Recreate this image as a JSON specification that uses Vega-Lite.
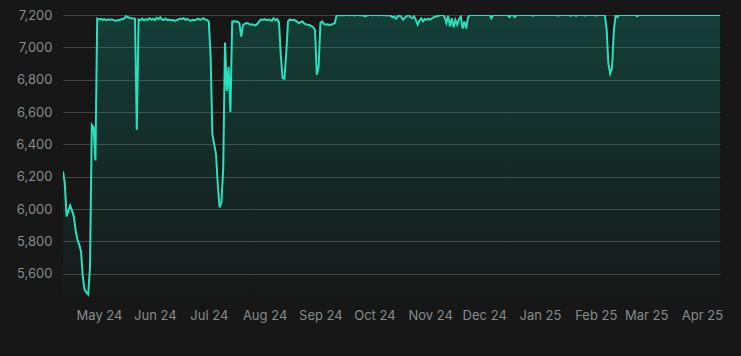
{
  "$schema": "https://vega.github.io/schema/vega-lite/v6.json",
  "width": 657,
  "height": 283,
  "autosize": {"type": "none"},
  "padding": {"left": 63, "top": 15, "right": 21, "bottom": 58},
  "background": "#171717",
  "config": {"view": {"stroke": null}, "font": "Inter"},
  "data": {"values": [
    {"d":"2024-04-11","v":6233},{"d":"2024-04-12","v":6160},{"d":"2024-04-13","v":5955},{"d":"2024-04-14","v":5990},{"d":"2024-04-15","v":6022},{"d":"2024-04-16","v":5990},{"d":"2024-04-17","v":5955},{"d":"2024-04-18","v":5870},{"d":"2024-04-19","v":5812},{"d":"2024-04-20","v":5780},{"d":"2024-04-21","v":5740},{"d":"2024-04-22","v":5580},{"d":"2024-04-23","v":5500},{"d":"2024-04-24","v":5485},{"d":"2024-04-25","v":5472},{"d":"2024-04-26","v":5640},{"d":"2024-04-27","v":6520},{"d":"2024-04-28","v":6505},{"d":"2024-04-29","v":6300},{"d":"2024-04-30","v":7178},
    {"d":"2024-05-01","v":7172},{"d":"2024-05-02","v":7176},{"d":"2024-05-03","v":7170},{"d":"2024-05-04","v":7174},{"d":"2024-05-05","v":7168},{"d":"2024-05-06","v":7172},{"d":"2024-05-07","v":7170},{"d":"2024-05-08","v":7173},{"d":"2024-05-09","v":7168},{"d":"2024-05-10","v":7165},{"d":"2024-05-11","v":7168},{"d":"2024-05-12","v":7167},{"d":"2024-05-13","v":7172},{"d":"2024-05-14","v":7175},{"d":"2024-05-15","v":7178},{"d":"2024-05-16","v":7193},{"d":"2024-05-17","v":7186},{"d":"2024-05-18","v":7183},{"d":"2024-05-19","v":7180},{"d":"2024-05-20","v":7178},{"d":"2024-05-21","v":7176},{"d":"2024-05-22","v":6490},{"d":"2024-05-23","v":7172},{"d":"2024-05-24","v":7168},{"d":"2024-05-25","v":7178},{"d":"2024-05-26","v":7166},{"d":"2024-05-27","v":7175},{"d":"2024-05-28","v":7170},{"d":"2024-05-29","v":7180},{"d":"2024-05-30","v":7172},{"d":"2024-05-31","v":7176},
    {"d":"2024-06-01","v":7168},{"d":"2024-06-02","v":7182},{"d":"2024-06-03","v":7174},{"d":"2024-06-04","v":7186},{"d":"2024-06-05","v":7172},{"d":"2024-06-06","v":7170},{"d":"2024-06-07","v":7178},{"d":"2024-06-08","v":7168},{"d":"2024-06-09","v":7172},{"d":"2024-06-10","v":7166},{"d":"2024-06-11","v":7170},{"d":"2024-06-12","v":7164},{"d":"2024-06-13","v":7168},{"d":"2024-06-14","v":7172},{"d":"2024-06-15","v":7178},{"d":"2024-06-16","v":7174},{"d":"2024-06-17","v":7180},{"d":"2024-06-18","v":7170},{"d":"2024-06-19","v":7176},{"d":"2024-06-20","v":7168},{"d":"2024-06-21","v":7165},{"d":"2024-06-22","v":7170},{"d":"2024-06-23","v":7166},{"d":"2024-06-24","v":7172},{"d":"2024-06-25","v":7178},{"d":"2024-06-26","v":7170},{"d":"2024-06-27","v":7174},{"d":"2024-06-28","v":7180},{"d":"2024-06-29","v":7172},{"d":"2024-06-30","v":7170},
    {"d":"2024-07-01","v":7160},{"d":"2024-07-02","v":6950},{"d":"2024-07-03","v":6460},{"d":"2024-07-04","v":6400},{"d":"2024-07-05","v":6340},{"d":"2024-07-06","v":6150},{"d":"2024-07-07","v":6010},{"d":"2024-07-08","v":6040},{"d":"2024-07-09","v":6250},{"d":"2024-07-10","v":7030},{"d":"2024-07-11","v":6730},{"d":"2024-07-12","v":6880},{"d":"2024-07-13","v":6600},{"d":"2024-07-14","v":7160},{"d":"2024-07-15","v":7162},{"d":"2024-07-16","v":7160},{"d":"2024-07-17","v":7158},{"d":"2024-07-18","v":7150},{"d":"2024-07-19","v":7066},{"d":"2024-07-20","v":7138},{"d":"2024-07-21","v":7145},{"d":"2024-07-22","v":7150},{"d":"2024-07-23","v":7148},{"d":"2024-07-24","v":7140},{"d":"2024-07-25","v":7142},{"d":"2024-07-26","v":7138},{"d":"2024-07-27","v":7136},{"d":"2024-07-28","v":7145},{"d":"2024-07-29","v":7160},{"d":"2024-07-30","v":7173},{"d":"2024-07-31","v":7170},
    {"d":"2024-08-01","v":7175},{"d":"2024-08-02","v":7168},{"d":"2024-08-03","v":7172},{"d":"2024-08-04","v":7170},{"d":"2024-08-05","v":7165},{"d":"2024-08-06","v":7180},{"d":"2024-08-07","v":7168},{"d":"2024-08-08","v":7175},{"d":"2024-08-09","v":7155},{"d":"2024-08-10","v":6950},{"d":"2024-08-11","v":6810},{"d":"2024-08-12","v":6805},{"d":"2024-08-13","v":6960},{"d":"2024-08-14","v":7160},{"d":"2024-08-15","v":7172},{"d":"2024-08-16","v":7168},{"d":"2024-08-17","v":7170},{"d":"2024-08-18","v":7166},{"d":"2024-08-19","v":7160},{"d":"2024-08-20","v":7150},{"d":"2024-08-21","v":7155},{"d":"2024-08-22","v":7160},{"d":"2024-08-23","v":7148},{"d":"2024-08-24","v":7142},{"d":"2024-08-25","v":7140},{"d":"2024-08-26","v":7138},{"d":"2024-08-27","v":7132},{"d":"2024-08-28","v":7125},{"d":"2024-08-29","v":7105},{"d":"2024-08-30","v":6830},{"d":"2024-08-31","v":6880},
    {"d":"2024-09-01","v":7150},{"d":"2024-09-02","v":7160},{"d":"2024-09-03","v":7145},{"d":"2024-09-04","v":7140},{"d":"2024-09-05","v":7142},{"d":"2024-09-06","v":7138},{"d":"2024-09-07","v":7140},{"d":"2024-09-08","v":7145},{"d":"2024-09-09","v":7150},{"d":"2024-09-10","v":7198},{"d":"2024-09-11","v":7200},{"d":"2024-09-12","v":7198},{"d":"2024-09-13","v":7200},{"d":"2024-09-14","v":7199},{"d":"2024-09-15","v":7200},{"d":"2024-09-16","v":7200},{"d":"2024-09-17","v":7198},{"d":"2024-09-18","v":7200},{"d":"2024-09-19","v":7200},{"d":"2024-09-20","v":7197},{"d":"2024-09-21","v":7200},{"d":"2024-09-22","v":7200},{"d":"2024-09-23","v":7199},{"d":"2024-09-24","v":7200},{"d":"2024-09-25","v":7196},{"d":"2024-09-26","v":7192},{"d":"2024-09-27","v":7198},{"d":"2024-09-28","v":7200},{"d":"2024-09-29","v":7200},{"d":"2024-09-30","v":7199},
    {"d":"2024-10-01","v":7200},{"d":"2024-10-02","v":7200},{"d":"2024-10-03","v":7198},{"d":"2024-10-04","v":7200},{"d":"2024-10-05","v":7200},{"d":"2024-10-06","v":7199},{"d":"2024-10-07","v":7200},{"d":"2024-10-08","v":7197},{"d":"2024-10-09","v":7200},{"d":"2024-10-10","v":7195},{"d":"2024-10-11","v":7186},{"d":"2024-10-12","v":7190},{"d":"2024-10-13","v":7177},{"d":"2024-10-14","v":7192},{"d":"2024-10-15","v":7198},{"d":"2024-10-16","v":7185},{"d":"2024-10-17","v":7171},{"d":"2024-10-18","v":7185},{"d":"2024-10-19","v":7192},{"d":"2024-10-20","v":7200},{"d":"2024-10-21","v":7188},{"d":"2024-10-22","v":7180},{"d":"2024-10-23","v":7192},{"d":"2024-10-24","v":7170},{"d":"2024-10-25","v":7140},{"d":"2024-10-26","v":7165},{"d":"2024-10-27","v":7180},{"d":"2024-10-28","v":7161},{"d":"2024-10-29","v":7175},{"d":"2024-10-30","v":7170},{"d":"2024-10-31","v":7178},
    {"d":"2024-11-01","v":7172},{"d":"2024-11-02","v":7180},{"d":"2024-11-03","v":7186},{"d":"2024-11-04","v":7190},{"d":"2024-11-05","v":7194},{"d":"2024-11-06","v":7197},{"d":"2024-11-07","v":7200},{"d":"2024-11-08","v":7200},{"d":"2024-11-09","v":7188},{"d":"2024-11-10","v":7150},{"d":"2024-11-11","v":7195},{"d":"2024-11-12","v":7130},{"d":"2024-11-13","v":7180},{"d":"2024-11-14","v":7124},{"d":"2024-11-15","v":7170},{"d":"2024-11-16","v":7140},{"d":"2024-11-17","v":7175},{"d":"2024-11-18","v":7190},{"d":"2024-11-19","v":7116},{"d":"2024-11-20","v":7160},{"d":"2024-11-21","v":7116},{"d":"2024-11-22","v":7185},{"d":"2024-11-23","v":7200},{"d":"2024-11-24","v":7200},{"d":"2024-11-25","v":7200},{"d":"2024-11-26","v":7200},{"d":"2024-11-27","v":7200},{"d":"2024-11-28","v":7200},{"d":"2024-11-29","v":7200},{"d":"2024-11-30","v":7200},
    {"d":"2024-12-01","v":7200},{"d":"2024-12-02","v":7200},{"d":"2024-12-03","v":7200},{"d":"2024-12-04","v":7200},{"d":"2024-12-05","v":7180},{"d":"2024-12-06","v":7200},{"d":"2024-12-07","v":7200},{"d":"2024-12-08","v":7200},{"d":"2024-12-09","v":7200},{"d":"2024-12-10","v":7200},{"d":"2024-12-11","v":7200},{"d":"2024-12-12","v":7200},{"d":"2024-12-13","v":7200},{"d":"2024-12-14","v":7200},{"d":"2024-12-15","v":7188},{"d":"2024-12-16","v":7200},{"d":"2024-12-17","v":7200},{"d":"2024-12-18","v":7188},{"d":"2024-12-19","v":7200},{"d":"2024-12-20","v":7200},{"d":"2024-12-21","v":7200},{"d":"2024-12-22","v":7200},{"d":"2024-12-23","v":7200},{"d":"2024-12-24","v":7200},{"d":"2024-12-25","v":7200},{"d":"2024-12-26","v":7200},{"d":"2024-12-27","v":7200},{"d":"2024-12-28","v":7196},{"d":"2024-12-29","v":7200},{"d":"2024-12-30","v":7200},{"d":"2024-12-31","v":7200},
    {"d":"2025-01-01","v":7200},{"d":"2025-01-02","v":7200},{"d":"2025-01-03","v":7200},{"d":"2025-01-04","v":7200},{"d":"2025-01-05","v":7200},{"d":"2025-01-06","v":7200},{"d":"2025-01-07","v":7200},{"d":"2025-01-08","v":7200},{"d":"2025-01-09","v":7200},{"d":"2025-01-10","v":7200},{"d":"2025-01-11","v":7197},{"d":"2025-01-12","v":7200},{"d":"2025-01-13","v":7200},{"d":"2025-01-14","v":7200},{"d":"2025-01-15","v":7200},{"d":"2025-01-16","v":7200},{"d":"2025-01-17","v":7200},{"d":"2025-01-18","v":7196},{"d":"2025-01-19","v":7200},{"d":"2025-01-20","v":7200},{"d":"2025-01-21","v":7196},{"d":"2025-01-22","v":7200},{"d":"2025-01-23","v":7200},{"d":"2025-01-24","v":7200},{"d":"2025-01-25","v":7200},{"d":"2025-01-26","v":7197},{"d":"2025-01-27","v":7200},{"d":"2025-01-28","v":7200},{"d":"2025-01-29","v":7200},{"d":"2025-01-30","v":7200},{"d":"2025-01-31","v":7200},
    {"d":"2025-02-01","v":7197},{"d":"2025-02-02","v":7200},{"d":"2025-02-03","v":7200},{"d":"2025-02-04","v":7200},{"d":"2025-02-05","v":7200},{"d":"2025-02-06","v":7200},{"d":"2025-02-07","v":7115},{"d":"2025-02-08","v":6900},{"d":"2025-02-09","v":6838},{"d":"2025-02-10","v":6870},{"d":"2025-02-11","v":7100},{"d":"2025-02-12","v":7200},{"d":"2025-02-13","v":7188},{"d":"2025-02-14","v":7200},{"d":"2025-02-15","v":7200},{"d":"2025-02-16","v":7200},{"d":"2025-02-17","v":7200},{"d":"2025-02-18","v":7200},{"d":"2025-02-19","v":7200},{"d":"2025-02-20","v":7200},{"d":"2025-02-21","v":7200},{"d":"2025-02-22","v":7200},{"d":"2025-02-23","v":7200},{"d":"2025-02-24","v":7192},{"d":"2025-02-25","v":7200},{"d":"2025-02-26","v":7200},{"d":"2025-02-27","v":7200},{"d":"2025-02-28","v":7200},
    {"d":"2025-03-01","v":7200},{"d":"2025-03-02","v":7200},{"d":"2025-03-03","v":7200},{"d":"2025-03-04","v":7200},{"d":"2025-03-05","v":7200},{"d":"2025-03-06","v":7200},{"d":"2025-03-07","v":7200},{"d":"2025-03-08","v":7200},{"d":"2025-03-09","v":7200},{"d":"2025-03-10","v":7200},{"d":"2025-03-11","v":7200},{"d":"2025-03-12","v":7200},{"d":"2025-03-13","v":7200},{"d":"2025-03-14","v":7200},{"d":"2025-03-15","v":7200},{"d":"2025-03-16","v":7200},{"d":"2025-03-17","v":7200},{"d":"2025-03-18","v":7200},{"d":"2025-03-19","v":7200},{"d":"2025-03-20","v":7200},{"d":"2025-03-21","v":7200},{"d":"2025-03-22","v":7200},{"d":"2025-03-23","v":7200},{"d":"2025-03-24","v":7200},{"d":"2025-03-25","v":7200},{"d":"2025-03-26","v":7200},{"d":"2025-03-27","v":7200},{"d":"2025-03-28","v":7200},{"d":"2025-03-29","v":7200},{"d":"2025-03-30","v":7200},{"d":"2025-03-31","v":7200},
    {"d":"2025-04-01","v":7200},{"d":"2025-04-02","v":7200},{"d":"2025-04-03","v":7200},{"d":"2025-04-04","v":7200},{"d":"2025-04-05","v":7200},{"d":"2025-04-06","v":7200},{"d":"2025-04-07","v":7200},{"d":"2025-04-08","v":7200},{"d":"2025-04-09","v":7200},{"d":"2025-04-10","v":7200},{"d":"2025-04-11","v":7200}
  ]},
  "encoding": {
    "x": {
      "field": "d", "type": "temporal", "title": null,
      "scale": {"type": "utc", "domain": ["2024-04-11", "2025-04-11"], "nice": false},
      "axis": {"format": "%b %y", "tickCount": {"interval": "month", "step": 1}, "grid": false, "domain": false, "ticks": false, "labelPadding": 11, "labelColor": "#868c8b", "labelFontSize": 13, "labelFlush": false, "labelOverlap": false, "labelFont": "Inter"}
    },
    "y": {
      "field": "v", "type": "quantitative", "title": null,
      "scale": {"domain": [5450, 7200], "nice": false, "zero": false},
      "axis": {"values": [5600, 5800, 6000, 6200, 6400, 6600, 6800, 7000, 7200], "format": ",.0f", "grid": true, "gridColor": "#444444", "gridWidth": 1, "domain": false, "ticks": false, "labelPadding": 11, "labelColor": "#868c8b", "labelFontSize": 13, "labelFont": "Inter"}
    }
  },
  "layer": [
    {"mark": {"type": "area", "clip": true, "opacity": 1, "color": {"gradient": "linear", "x1": 0, "y1": 0, "x2": 0, "y2": 1, "stops": [{"offset": 0, "color": "rgba(11,179,151,0.25)"}, {"offset": 1, "color": "rgba(11,179,151,0.01)"}]}},
     "encoding": {"y2": {"datum": 5450}}},
    {"mark": {"type": "line", "color": "#29e0bd", "strokeWidth": 2, "clip": true}}
  ]
}
